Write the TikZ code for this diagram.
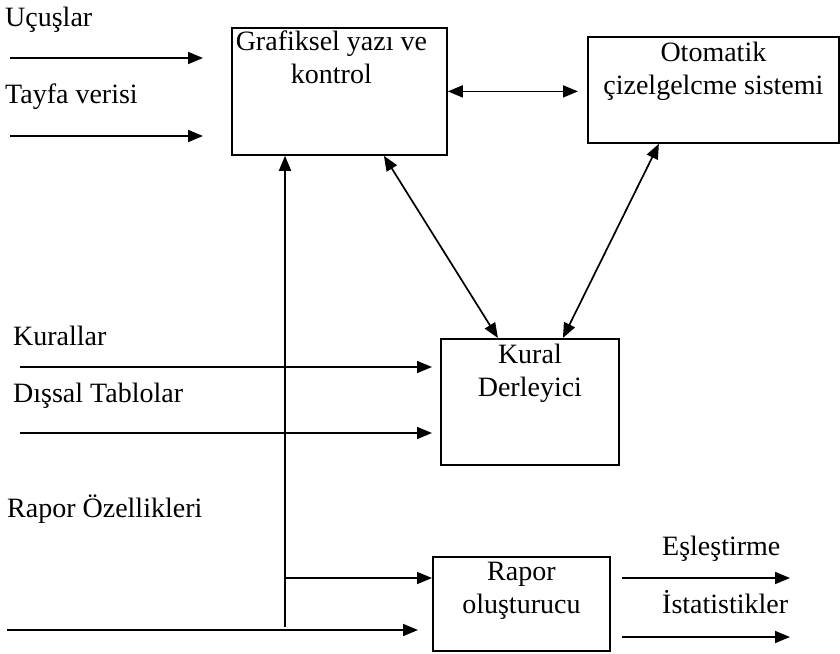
\documentclass[tikz,border=0pt]{standalone}
\usepackage{fontspec}
\setmainfont{Liberation Serif}
\usetikzlibrary{arrows.meta,positioning}

\begin{document}
\begin{tikzpicture}[
  x=1pt, y=-1pt,
  font=\fontsize{28}{33}\selectfont,
  box/.style={draw, line width=1.8pt, anchor=north west, inner sep=0pt},
  boxtext/.style={align=center, anchor=north, inner sep=6pt},
  lbl/.style={anchor=base west, inner sep=0pt},
  arrow/.style={-{Triangle[length=15pt, width=12pt]}, line width=1.7pt},
  dbl/.style={{Triangle[length=15pt, width=12pt]}-{Triangle[length=15pt, width=12pt]}, line width=1.7pt}
]
\useasboundingbox (0,0) rectangle (840,653);

\node[box, minimum width=215pt, minimum height=127pt, label={[boxtext, inner sep=4pt, xshift=-8pt]north:{Grafiksel yazı ve\\kontrol}}] (graf) at (231,27) {};
\node[box, minimum width=251pt, minimum height=106pt, label={[boxtext]north:{Otomatik\\çizelgelcme sistemi}}] (oto) at (587,36) {};
\node[box, minimum width=178pt, minimum height=126pt, label={[boxtext]north:{Kural\\Derleyici}}] (kural) at (440,338) {};
\node[box, minimum width=177pt, minimum height=94pt, label={[boxtext]north:{Rapor\\oluşturucu}}] (rapor) at (432,556) {};

\node[lbl] (ucLbl) at (5,27) {Uçuşlar};
\node[lbl] (tayLbl) at (5,103) {Tayfa verisi};
\node[lbl] (kurLbl) at (13,345) {Kurallar};
\node[lbl] (disLbl) at (13,402) {Dışsal Tablolar};
\node[lbl] (rapLbl) at (7,517) {Rapor Özellikleri};
\node[lbl] (esLbl) at (662,555) {Eşleştirme};
\node[lbl] (istLbl) at (662,613) {İstatistikler};

\coordinate (ucIn) at (10,58);
\coordinate (tayIn) at (10,136);
\coordinate (kurIn) at (20,367);
\coordinate (disIn) at (20,433);
\coordinate (rapIn) at (7,630);
\coordinate (vBot) at (285,627);
\coordinate (vJoin) at (285,578);
\coordinate (esOut) at (790,578);
\coordinate (istOut) at (790,637);

\draw[arrow, shorten >=28pt] (ucIn) -- (ucIn -| graf.west);
\draw[arrow, shorten >=28pt] (tayIn) -- (tayIn -| graf.west);
\draw[dbl, shorten >=9pt] (graf.east) -- (oto.west |- graf.east);
\draw[dbl] ([xshift=44.5pt]graf.south) -- ([xshift=-32pt]kural.north);
\draw[dbl] ([xshift=-54.5pt]oto.south) -- ([xshift=33pt]kural.north);
\draw[arrow, shorten >=8pt] (kurIn) -- (kurIn -| kural.west);
\draw[arrow, shorten >=8pt] (disIn) -- (disIn -| kural.west);
\draw[arrow] (vBot) -- (vBot |- graf.south);
\draw[arrow] (vJoin) -- (vJoin -| rapor.west);
\draw[arrow, shorten >=14pt] (rapIn) -- (rapIn -| rapor.west);
\draw[arrow, shorten <=11pt] (esOut -| rapor.east) -- (esOut);
\draw[arrow, shorten <=11pt] (istOut -| rapor.east) -- (istOut);
\end{tikzpicture}
\end{document}
